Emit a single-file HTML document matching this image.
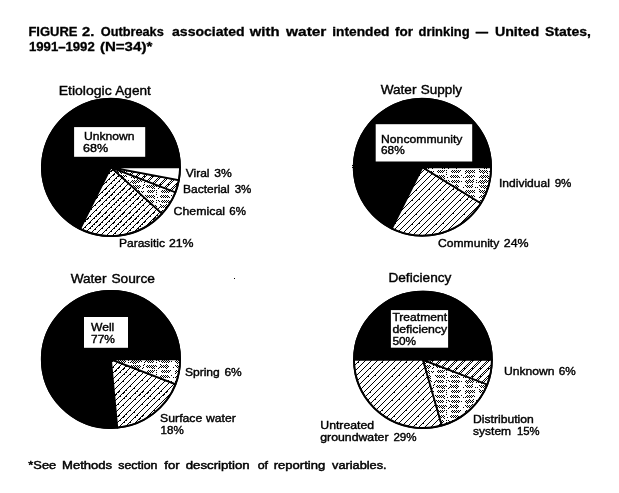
<!DOCTYPE html>
<html><head><meta charset="utf-8"><title>FIGURE 2</title>
<style>
html,body{margin:0;padding:0;background:#fff;}
svg{display:block;}
text{font-family:"Liberation Sans",sans-serif;fill:#000;stroke:#000;stroke-width:0.3px;}
.t{font-weight:bold;font-size:12.4px;}
.h{font-size:13.3px;stroke-width:0.4px;}
.l{font-size:11.6px;stroke-width:0.4px;}
.f{font-size:10.8px;stroke-width:0.45px;}
</style></head><body>
<svg width="619" height="493" viewBox="0 0 619 493">
<defs>
<pattern id="h1" width="24" height="24" patternUnits="userSpaceOnUse"><rect width="24" height="24" fill="#fff"/><path shape-rendering="crispEdges" fill="#000" d="M0,0h1v1h-1zM0,5h1v1h-1zM0,6h1v1h-1zM0,11h1v1h-1zM0,17h1v1h-1zM0,18h1v1h-1zM0,23h1v1h-1zM1,4h1v1h-1zM1,5h1v1h-1zM1,10h1v1h-1zM1,16h1v1h-1zM1,22h1v1h-1zM2,3h1v1h-1zM2,9h1v1h-1zM2,15h1v1h-1zM2,21h1v1h-1zM2,22h1v1h-1zM3,2h1v1h-1zM3,8h1v1h-1zM3,9h1v1h-1zM3,14h1v1h-1zM3,20h1v1h-1zM3,21h1v1h-1zM4,1h1v1h-1zM4,7h1v1h-1zM4,8h1v1h-1zM4,13h1v1h-1zM4,19h1v1h-1zM4,20h1v1h-1zM5,0h1v1h-1zM5,6h1v1h-1zM5,12h1v1h-1zM5,18h1v1h-1zM6,0h1v1h-1zM6,5h1v1h-1zM6,6h1v1h-1zM6,11h1v1h-1zM6,12h1v1h-1zM6,17h1v1h-1zM6,23h1v1h-1zM7,4h1v1h-1zM7,10h1v1h-1zM7,16h1v1h-1zM7,22h1v1h-1zM8,3h1v1h-1zM8,9h1v1h-1zM8,15h1v1h-1zM8,21h1v1h-1zM9,2h1v1h-1zM9,3h1v1h-1zM9,8h1v1h-1zM9,14h1v1h-1zM9,20h1v1h-1zM9,21h1v1h-1zM10,1h1v1h-1zM10,2h1v1h-1zM10,7h1v1h-1zM10,8h1v1h-1zM10,13h1v1h-1zM10,14h1v1h-1zM10,19h1v1h-1zM10,20h1v1h-1zM11,0h1v1h-1zM11,1h1v1h-1zM11,6h1v1h-1zM11,12h1v1h-1zM11,18h1v1h-1zM12,5h1v1h-1zM12,11h1v1h-1zM12,17h1v1h-1zM12,23h1v1h-1zM13,4h1v1h-1zM13,5h1v1h-1zM13,10h1v1h-1zM13,11h1v1h-1zM13,16h1v1h-1zM13,22h1v1h-1zM13,23h1v1h-1zM14,3h1v1h-1zM14,9h1v1h-1zM14,15h1v1h-1zM14,21h1v1h-1zM15,2h1v1h-1zM15,3h1v1h-1zM15,8h1v1h-1zM15,14h1v1h-1zM15,15h1v1h-1zM15,20h1v1h-1zM16,1h1v1h-1zM16,2h1v1h-1zM16,7h1v1h-1zM16,13h1v1h-1zM16,19h1v1h-1zM16,20h1v1h-1zM17,0h1v1h-1zM17,6h1v1h-1zM17,7h1v1h-1zM17,12h1v1h-1zM17,18h1v1h-1zM17,19h1v1h-1zM18,0h1v1h-1zM18,5h1v1h-1zM18,6h1v1h-1zM18,11h1v1h-1zM18,12h1v1h-1zM18,17h1v1h-1zM18,23h1v1h-1zM19,4h1v1h-1zM19,10h1v1h-1zM19,16h1v1h-1zM19,17h1v1h-1zM19,22h1v1h-1zM20,3h1v1h-1zM20,9h1v1h-1zM20,10h1v1h-1zM20,15h1v1h-1zM20,21h1v1h-1zM21,2h1v1h-1zM21,8h1v1h-1zM21,14h1v1h-1zM21,20h1v1h-1zM22,1h1v1h-1zM22,2h1v1h-1zM22,7h1v1h-1zM22,8h1v1h-1zM22,13h1v1h-1zM22,19h1v1h-1zM23,0h1v1h-1zM23,6h1v1h-1zM23,12h1v1h-1zM23,13h1v1h-1zM23,18h1v1h-1z"/></pattern>
<pattern id="h1b" width="24" height="24" patternUnits="userSpaceOnUse"><rect width="24" height="24" fill="#fff"/><path shape-rendering="crispEdges" fill="#000" d="M0,5h1v1h-1zM0,11h1v1h-1zM0,12h1v1h-1zM0,17h1v1h-1zM0,23h1v1h-1zM1,4h1v1h-1zM1,10h1v1h-1zM1,16h1v1h-1zM1,22h1v1h-1zM2,3h1v1h-1zM2,9h1v1h-1zM2,15h1v1h-1zM2,21h1v1h-1zM3,2h1v1h-1zM3,8h1v1h-1zM3,9h1v1h-1zM3,14h1v1h-1zM3,20h1v1h-1zM3,21h1v1h-1zM4,1h1v1h-1zM4,7h1v1h-1zM4,8h1v1h-1zM4,13h1v1h-1zM4,14h1v1h-1zM4,19h1v1h-1zM5,0h1v1h-1zM5,6h1v1h-1zM5,12h1v1h-1zM5,18h1v1h-1zM6,5h1v1h-1zM6,6h1v1h-1zM6,11h1v1h-1zM6,12h1v1h-1zM6,17h1v1h-1zM6,23h1v1h-1zM7,4h1v1h-1zM7,10h1v1h-1zM7,16h1v1h-1zM7,22h1v1h-1zM8,3h1v1h-1zM8,9h1v1h-1zM8,15h1v1h-1zM8,21h1v1h-1zM9,2h1v1h-1zM9,8h1v1h-1zM9,14h1v1h-1zM9,20h1v1h-1zM10,1h1v1h-1zM10,2h1v1h-1zM10,7h1v1h-1zM10,13h1v1h-1zM10,14h1v1h-1zM10,19h1v1h-1zM11,0h1v1h-1zM11,6h1v1h-1zM11,12h1v1h-1zM11,18h1v1h-1zM12,5h1v1h-1zM12,11h1v1h-1zM12,17h1v1h-1zM12,23h1v1h-1zM13,4h1v1h-1zM13,10h1v1h-1zM13,16h1v1h-1zM13,22h1v1h-1zM14,3h1v1h-1zM14,4h1v1h-1zM14,9h1v1h-1zM14,15h1v1h-1zM14,21h1v1h-1zM15,2h1v1h-1zM15,8h1v1h-1zM15,9h1v1h-1zM15,14h1v1h-1zM15,15h1v1h-1zM15,20h1v1h-1zM16,1h1v1h-1zM16,7h1v1h-1zM16,13h1v1h-1zM16,19h1v1h-1zM17,0h1v1h-1zM17,6h1v1h-1zM17,7h1v1h-1zM17,12h1v1h-1zM17,18h1v1h-1zM18,5h1v1h-1zM18,11h1v1h-1zM18,17h1v1h-1zM18,23h1v1h-1zM19,4h1v1h-1zM19,10h1v1h-1zM19,11h1v1h-1zM19,16h1v1h-1zM19,22h1v1h-1zM20,3h1v1h-1zM20,9h1v1h-1zM20,10h1v1h-1zM20,15h1v1h-1zM20,21h1v1h-1zM21,2h1v1h-1zM21,8h1v1h-1zM21,14h1v1h-1zM21,20h1v1h-1zM22,1h1v1h-1zM22,7h1v1h-1zM22,8h1v1h-1zM22,13h1v1h-1zM22,19h1v1h-1zM22,20h1v1h-1zM23,0h1v1h-1zM23,6h1v1h-1zM23,7h1v1h-1zM23,12h1v1h-1zM23,18h1v1h-1z"/></pattern>
<pattern id="h3b" width="24" height="24" patternUnits="userSpaceOnUse"><rect width="24" height="24" fill="#fff"/><path shape-rendering="crispEdges" fill="#000" d="M0,5h1v1h-1zM0,11h1v1h-1zM0,17h1v1h-1zM0,23h1v1h-1zM1,4h1v1h-1zM1,10h1v1h-1zM1,16h1v1h-1zM1,22h1v1h-1zM2,3h1v1h-1zM2,9h1v1h-1zM2,15h1v1h-1zM2,21h1v1h-1zM3,2h1v1h-1zM3,8h1v1h-1zM3,14h1v1h-1zM3,20h1v1h-1zM4,1h1v1h-1zM4,7h1v1h-1zM4,13h1v1h-1zM4,19h1v1h-1zM5,0h1v1h-1zM5,6h1v1h-1zM5,12h1v1h-1zM5,18h1v1h-1zM6,5h1v1h-1zM6,11h1v1h-1zM6,17h1v1h-1zM6,23h1v1h-1zM7,4h1v1h-1zM7,10h1v1h-1zM7,16h1v1h-1zM7,22h1v1h-1zM8,3h1v1h-1zM8,9h1v1h-1zM8,15h1v1h-1zM8,16h1v1h-1zM8,21h1v1h-1zM9,2h1v1h-1zM9,8h1v1h-1zM9,14h1v1h-1zM9,20h1v1h-1zM10,1h1v1h-1zM10,7h1v1h-1zM10,8h1v1h-1zM10,13h1v1h-1zM10,19h1v1h-1zM11,0h1v1h-1zM11,6h1v1h-1zM11,12h1v1h-1zM11,18h1v1h-1zM12,5h1v1h-1zM12,11h1v1h-1zM12,17h1v1h-1zM12,23h1v1h-1zM13,4h1v1h-1zM13,10h1v1h-1zM13,16h1v1h-1zM13,22h1v1h-1zM14,3h1v1h-1zM14,9h1v1h-1zM14,15h1v1h-1zM14,21h1v1h-1zM15,2h1v1h-1zM15,8h1v1h-1zM15,14h1v1h-1zM15,15h1v1h-1zM15,20h1v1h-1zM16,1h1v1h-1zM16,7h1v1h-1zM16,13h1v1h-1zM16,19h1v1h-1zM17,0h1v1h-1zM17,6h1v1h-1zM17,12h1v1h-1zM17,18h1v1h-1zM18,5h1v1h-1zM18,11h1v1h-1zM18,17h1v1h-1zM18,23h1v1h-1zM19,4h1v1h-1zM19,10h1v1h-1zM19,16h1v1h-1zM19,22h1v1h-1zM20,3h1v1h-1zM20,9h1v1h-1zM20,15h1v1h-1zM20,21h1v1h-1zM21,2h1v1h-1zM21,8h1v1h-1zM21,14h1v1h-1zM21,20h1v1h-1zM22,1h1v1h-1zM22,2h1v1h-1zM22,7h1v1h-1zM22,13h1v1h-1zM22,19h1v1h-1zM23,0h1v1h-1zM23,6h1v1h-1zM23,12h1v1h-1zM23,18h1v1h-1z"/></pattern>
<pattern id="h2" width="16" height="16" patternUnits="userSpaceOnUse"><rect width="16" height="16" fill="#fff"/><path shape-rendering="crispEdges" fill="#000" d="M0,0h1v1h-1zM0,1h1v1h-1zM0,7h1v1h-1zM0,8h1v1h-1zM0,9h1v1h-1zM0,15h1v1h-1zM1,0h1v1h-1zM1,6h1v1h-1zM1,8h1v1h-1zM1,14h1v1h-1zM2,5h1v1h-1zM2,7h1v1h-1zM2,13h1v1h-1zM2,15h1v1h-1zM3,4h1v1h-1zM3,6h1v1h-1zM3,12h1v1h-1zM3,14h1v1h-1zM4,3h1v1h-1zM4,5h1v1h-1zM4,11h1v1h-1zM4,13h1v1h-1zM5,2h1v1h-1zM5,4h1v1h-1zM5,10h1v1h-1zM5,12h1v1h-1zM6,1h1v1h-1zM6,3h1v1h-1zM6,9h1v1h-1zM6,11h1v1h-1zM7,0h1v1h-1zM7,2h1v1h-1zM7,8h1v1h-1zM7,10h1v1h-1zM8,0h1v1h-1zM8,1h1v1h-1zM8,7h1v1h-1zM8,8h1v1h-1zM8,9h1v1h-1zM8,15h1v1h-1zM9,0h1v1h-1zM9,6h1v1h-1zM9,8h1v1h-1zM9,14h1v1h-1zM10,5h1v1h-1zM10,7h1v1h-1zM10,13h1v1h-1zM10,15h1v1h-1zM11,4h1v1h-1zM11,6h1v1h-1zM11,12h1v1h-1zM11,14h1v1h-1zM12,3h1v1h-1zM12,5h1v1h-1zM12,11h1v1h-1zM12,13h1v1h-1zM13,2h1v1h-1zM13,4h1v1h-1zM13,10h1v1h-1zM13,12h1v1h-1zM14,1h1v1h-1zM14,3h1v1h-1zM14,9h1v1h-1zM14,11h1v1h-1zM15,0h1v1h-1zM15,2h1v1h-1zM15,8h1v1h-1zM15,10h1v1h-1z"/></pattern>
<pattern id="h3" width="24" height="24" patternUnits="userSpaceOnUse"><rect width="24" height="24" fill="#fff"/><path shape-rendering="crispEdges" fill="#000" d="M0,5h1v1h-1zM0,11h1v1h-1zM0,17h1v1h-1zM0,23h1v1h-1zM1,4h1v1h-1zM1,10h1v1h-1zM1,16h1v1h-1zM1,22h1v1h-1zM2,3h1v1h-1zM2,9h1v1h-1zM2,15h1v1h-1zM2,21h1v1h-1zM3,2h1v1h-1zM3,8h1v1h-1zM3,14h1v1h-1zM3,20h1v1h-1zM4,1h1v1h-1zM4,7h1v1h-1zM4,8h1v1h-1zM4,13h1v1h-1zM4,19h1v1h-1zM5,0h1v1h-1zM5,6h1v1h-1zM5,12h1v1h-1zM5,18h1v1h-1zM6,5h1v1h-1zM6,11h1v1h-1zM6,17h1v1h-1zM6,23h1v1h-1zM7,4h1v1h-1zM7,10h1v1h-1zM7,16h1v1h-1zM7,22h1v1h-1zM8,3h1v1h-1zM8,9h1v1h-1zM8,15h1v1h-1zM8,21h1v1h-1zM8,22h1v1h-1zM9,2h1v1h-1zM9,8h1v1h-1zM9,14h1v1h-1zM9,20h1v1h-1zM10,1h1v1h-1zM10,7h1v1h-1zM10,13h1v1h-1zM10,19h1v1h-1zM11,0h1v1h-1zM11,6h1v1h-1zM11,7h1v1h-1zM11,12h1v1h-1zM11,18h1v1h-1zM12,5h1v1h-1zM12,11h1v1h-1zM12,17h1v1h-1zM12,23h1v1h-1zM13,4h1v1h-1zM13,10h1v1h-1zM13,16h1v1h-1zM13,22h1v1h-1zM14,3h1v1h-1zM14,9h1v1h-1zM14,15h1v1h-1zM14,21h1v1h-1zM15,2h1v1h-1zM15,8h1v1h-1zM15,14h1v1h-1zM15,20h1v1h-1zM16,1h1v1h-1zM16,7h1v1h-1zM16,13h1v1h-1zM16,19h1v1h-1zM17,0h1v1h-1zM17,6h1v1h-1zM17,12h1v1h-1zM17,18h1v1h-1zM18,5h1v1h-1zM18,11h1v1h-1zM18,17h1v1h-1zM18,23h1v1h-1zM19,4h1v1h-1zM19,10h1v1h-1zM19,16h1v1h-1zM19,22h1v1h-1zM20,3h1v1h-1zM20,9h1v1h-1zM20,15h1v1h-1zM20,21h1v1h-1zM21,2h1v1h-1zM21,8h1v1h-1zM21,14h1v1h-1zM21,20h1v1h-1zM21,21h1v1h-1zM22,1h1v1h-1zM22,7h1v1h-1zM22,13h1v1h-1zM22,19h1v1h-1zM23,0h1v1h-1zM23,6h1v1h-1zM23,12h1v1h-1zM23,18h1v1h-1z"/></pattern>
<pattern id="st" width="58" height="20" patternUnits="userSpaceOnUse"><rect width="58" height="20" fill="#fff"/><path shape-rendering="crispEdges" fill="#000" d="M1,1h1v1h-1zM1,5h1v1h-1zM1,11h1v1h-1zM1,13h1v1h-1zM1,17h1v1h-1zM2,0h1v1h-1zM2,2h1v1h-1zM2,6h1v1h-1zM2,10h1v1h-1zM2,12h1v1h-1zM2,16h1v1h-1zM3,1h1v1h-1zM3,3h1v1h-1zM3,5h1v1h-1zM3,7h1v1h-1zM3,11h1v1h-1zM3,15h1v1h-1zM3,17h1v1h-1zM4,0h1v1h-1zM4,2h1v1h-1zM4,6h1v1h-1zM4,10h1v1h-1zM4,12h1v1h-1zM4,16h1v1h-1zM5,1h1v1h-1zM5,5h1v1h-1zM5,7h1v1h-1zM5,11h1v1h-1zM5,13h1v1h-1zM5,15h1v1h-1zM5,17h1v1h-1zM5,19h1v1h-1zM6,0h1v1h-1zM6,2h1v1h-1zM6,6h1v1h-1zM6,10h1v1h-1zM6,12h1v1h-1zM6,16h1v1h-1zM7,1h1v1h-1zM7,5h1v1h-1zM7,7h1v1h-1zM7,11h1v1h-1zM7,15h1v1h-1zM7,17h1v1h-1zM8,0h1v1h-1zM8,2h1v1h-1zM8,4h1v1h-1zM8,6h1v1h-1zM8,10h1v1h-1zM8,12h1v1h-1zM8,16h1v1h-1zM9,1h1v1h-1zM9,11h1v1h-1zM9,15h1v1h-1zM9,19h1v1h-1zM10,10h1v1h-1zM10,12h1v1h-1zM10,16h1v1h-1zM11,7h1v1h-1zM12,0h1v1h-1zM12,2h1v1h-1zM13,7h1v1h-1zM14,2h1v1h-1zM15,1h1v1h-1zM15,5h1v1h-1zM15,9h1v1h-1zM15,11h1v1h-1zM15,17h1v1h-1zM16,0h1v1h-1zM16,2h1v1h-1zM16,6h1v1h-1zM16,10h1v1h-1zM16,12h1v1h-1zM16,16h1v1h-1zM17,1h1v1h-1zM17,3h1v1h-1zM17,5h1v1h-1zM17,7h1v1h-1zM17,11h1v1h-1zM17,15h1v1h-1zM17,17h1v1h-1zM18,0h1v1h-1zM18,2h1v1h-1zM18,6h1v1h-1zM18,10h1v1h-1zM18,12h1v1h-1zM18,16h1v1h-1zM18,18h1v1h-1zM19,1h1v1h-1zM19,3h1v1h-1zM19,5h1v1h-1zM19,7h1v1h-1zM19,11h1v1h-1zM19,13h1v1h-1zM19,15h1v1h-1zM19,17h1v1h-1zM20,0h1v1h-1zM20,2h1v1h-1zM20,6h1v1h-1zM20,8h1v1h-1zM20,10h1v1h-1zM20,12h1v1h-1zM20,16h1v1h-1zM21,1h1v1h-1zM21,5h1v1h-1zM21,7h1v1h-1zM21,11h1v1h-1zM21,15h1v1h-1zM21,17h1v1h-1zM21,19h1v1h-1zM22,0h1v1h-1zM22,2h1v1h-1zM22,6h1v1h-1zM22,8h1v1h-1zM22,10h1v1h-1zM22,12h1v1h-1zM22,16h1v1h-1zM23,1h1v1h-1zM23,5h1v1h-1zM23,7h1v1h-1zM23,11h1v1h-1zM23,13h1v1h-1zM23,15h1v1h-1zM23,17h1v1h-1zM24,0h1v1h-1zM24,6h1v1h-1zM24,16h1v1h-1zM24,18h1v1h-1zM25,1h1v1h-1zM25,11h1v1h-1zM26,8h1v1h-1zM26,12h1v1h-1zM27,5h1v1h-1zM27,7h1v1h-1zM27,11h1v1h-1zM28,2h1v1h-1zM28,4h1v1h-1zM29,1h1v1h-1zM29,15h1v1h-1zM30,0h1v1h-1zM30,6h1v1h-1zM30,16h1v1h-1zM31,1h1v1h-1zM31,5h1v1h-1zM31,7h1v1h-1zM31,11h1v1h-1zM31,15h1v1h-1zM31,17h1v1h-1zM32,0h1v1h-1zM32,2h1v1h-1zM32,6h1v1h-1zM32,10h1v1h-1zM32,12h1v1h-1zM32,16h1v1h-1zM33,1h1v1h-1zM33,5h1v1h-1zM33,7h1v1h-1zM33,11h1v1h-1zM33,15h1v1h-1zM33,17h1v1h-1zM34,0h1v1h-1zM34,2h1v1h-1zM34,6h1v1h-1zM34,10h1v1h-1zM34,12h1v1h-1zM34,16h1v1h-1zM35,1h1v1h-1zM35,5h1v1h-1zM35,7h1v1h-1zM35,11h1v1h-1zM35,15h1v1h-1zM35,17h1v1h-1zM36,0h1v1h-1zM36,2h1v1h-1zM36,6h1v1h-1zM36,8h1v1h-1zM36,10h1v1h-1zM36,12h1v1h-1zM36,16h1v1h-1zM37,1h1v1h-1zM37,5h1v1h-1zM37,7h1v1h-1zM37,11h1v1h-1zM37,15h1v1h-1zM37,17h1v1h-1zM38,6h1v1h-1zM38,8h1v1h-1zM38,10h1v1h-1zM38,16h1v1h-1zM38,18h1v1h-1zM39,5h1v1h-1zM40,0h1v1h-1zM40,2h1v1h-1zM40,6h1v1h-1zM40,10h1v1h-1zM40,12h1v1h-1zM40,14h1v1h-1zM41,17h1v1h-1zM42,0h1v1h-1zM42,8h1v1h-1zM43,1h1v1h-1zM43,7h1v1h-1zM44,4h1v1h-1zM44,6h1v1h-1zM44,16h1v1h-1zM45,1h1v1h-1zM45,5h1v1h-1zM45,7h1v1h-1zM45,11h1v1h-1zM45,15h1v1h-1zM45,17h1v1h-1zM46,0h1v1h-1zM46,2h1v1h-1zM46,6h1v1h-1zM46,10h1v1h-1zM46,12h1v1h-1zM46,16h1v1h-1zM47,1h1v1h-1zM47,5h1v1h-1zM47,7h1v1h-1zM47,11h1v1h-1zM47,15h1v1h-1zM47,17h1v1h-1zM48,0h1v1h-1zM48,2h1v1h-1zM48,6h1v1h-1zM48,10h1v1h-1zM48,12h1v1h-1zM48,16h1v1h-1zM49,1h1v1h-1zM49,5h1v1h-1zM49,7h1v1h-1zM49,11h1v1h-1zM49,15h1v1h-1zM49,17h1v1h-1zM50,0h1v1h-1zM50,2h1v1h-1zM50,4h1v1h-1zM50,6h1v1h-1zM50,8h1v1h-1zM50,10h1v1h-1zM50,12h1v1h-1zM50,16h1v1h-1zM51,1h1v1h-1zM51,5h1v1h-1zM51,7h1v1h-1zM51,11h1v1h-1zM51,15h1v1h-1zM51,17h1v1h-1zM52,0h1v1h-1zM52,2h1v1h-1zM52,6h1v1h-1zM52,10h1v1h-1zM52,12h1v1h-1zM52,16h1v1h-1zM53,1h1v1h-1zM53,11h1v1h-1zM53,17h1v1h-1zM54,10h1v1h-1zM55,1h1v1h-1zM55,15h1v1h-1zM57,7h1v1h-1zM57,17h1v1h-1z"/></pattern>
</defs>
<rect width="619" height="493" fill="#fff"/>

<path d="M111.00,167.45L180.00,167.45A69.00,68.65 0 1 0 80.24,228.90Z" fill="#000" stroke="#000" stroke-width="1.8" stroke-linejoin="round"/>
<path d="M111.00,167.45L80.24,228.90A69.00,68.65 0 0 0 161.99,213.70Z" fill="url(#h1)" stroke="#000" stroke-width="1.8" stroke-linejoin="round"/>
<path d="M111.00,167.45L161.99,213.70A69.00,68.65 0 0 0 175.34,192.25Z" fill="url(#st)" stroke="#000" stroke-width="1.8" stroke-linejoin="round"/>
<path d="M111.00,167.45L175.34,192.25A69.00,68.65 0 0 0 178.83,180.06Z" fill="url(#h2)" stroke="#000" stroke-width="1.8" stroke-linejoin="round"/>
<path d="M111.00,167.45L178.83,180.06A69.00,68.65 0 0 0 180.00,167.45Z" fill="#fff" stroke="#000" stroke-width="1.8" stroke-linejoin="round"/>
<ellipse cx="111.00" cy="167.45" rx="69.00" ry="68.65" fill="none" stroke="#000" stroke-width="1.8"/>
<path d="M422.45,167.25L491.10,167.25A68.65,68.45 0 1 0 391.85,228.52Z" fill="#000" stroke="#000" stroke-width="1.8" stroke-linejoin="round"/>
<path d="M422.45,167.25L391.85,228.52A68.65,68.45 0 0 0 480.82,203.28Z" fill="url(#h3)" stroke="#000" stroke-width="1.8" stroke-linejoin="round"/>
<path d="M422.45,167.25L480.82,203.28A68.65,68.45 0 0 0 491.10,167.25Z" fill="url(#st)" stroke="#000" stroke-width="1.8" stroke-linejoin="round"/>
<ellipse cx="422.45" cy="167.25" rx="68.65" ry="68.45" fill="none" stroke="#000" stroke-width="1.8"/>
<path d="M110.95,359.45L180.10,359.45A69.15,68.55 0 1 0 117.33,427.71Z" fill="#000" stroke="#000" stroke-width="1.8" stroke-linejoin="round"/>
<path d="M110.95,359.45L117.33,427.71A69.15,68.55 0 0 0 175.43,384.21Z" fill="url(#h1b)" stroke="#000" stroke-width="1.8" stroke-linejoin="round"/>
<path d="M110.95,359.45L175.43,384.21A69.15,68.55 0 0 0 180.10,359.45Z" fill="url(#st)" stroke="#000" stroke-width="1.8" stroke-linejoin="round"/>
<ellipse cx="110.95" cy="359.45" rx="69.15" ry="68.55" fill="none" stroke="#000" stroke-width="1.8"/>
<path d="M422.95,359.85L491.90,359.85A68.95,68.15 0 0 0 354.00,359.85Z" fill="#000" stroke="#000" stroke-width="1.8" stroke-linejoin="round"/>
<path d="M422.95,359.85L354.00,359.85A68.95,68.15 0 0 0 441.82,425.40Z" fill="url(#h3b)" stroke="#000" stroke-width="1.8" stroke-linejoin="round"/>
<path d="M422.95,359.85L441.82,425.40A68.95,68.15 0 0 0 487.24,384.47Z" fill="url(#st)" stroke="#000" stroke-width="1.8" stroke-linejoin="round"/>
<path d="M422.95,359.85L487.24,384.47A68.95,68.15 0 0 0 491.90,359.85Z" fill="url(#h2)" stroke="#000" stroke-width="1.8" stroke-linejoin="round"/>
<ellipse cx="422.95" cy="359.85" rx="68.95" ry="68.15" fill="none" stroke="#000" stroke-width="1.8"/>
<text y="36.2" class="t"><tspan x="28.4" textLength="49.1" lengthAdjust="spacingAndGlyphs">FIGURE</tspan> <tspan x="82" textLength="12.3" lengthAdjust="spacingAndGlyphs">2.</tspan> <tspan x="100.8" textLength="63.0" lengthAdjust="spacingAndGlyphs">Outbreaks</tspan> <tspan x="172" textLength="72.7" lengthAdjust="spacingAndGlyphs">associated</tspan> <tspan x="249.8" textLength="29.7" lengthAdjust="spacingAndGlyphs">with</tspan> <tspan x="286" textLength="40.4" lengthAdjust="spacingAndGlyphs">water</tspan> <tspan x="332.3" textLength="57.2" lengthAdjust="spacingAndGlyphs">intended</tspan> <tspan x="395" textLength="18.0" lengthAdjust="spacingAndGlyphs">for</tspan> <tspan x="418.5" textLength="51.1" lengthAdjust="spacingAndGlyphs">drinking</tspan> <tspan x="475.7" textLength="12.3" lengthAdjust="spacingAndGlyphs">—</tspan> <tspan x="494.9" textLength="44.3" lengthAdjust="spacingAndGlyphs">United</tspan> <tspan x="545" textLength="45.9" lengthAdjust="spacingAndGlyphs">States,</tspan></text>
<text y="51.4" class="t"><tspan x="29" textLength="65.7" lengthAdjust="spacingAndGlyphs">1991–1992</tspan> <tspan x="99.9" textLength="52.4" lengthAdjust="spacingAndGlyphs">(N=34)*</tspan></text>
<text y="94.5" class="h"><tspan x="58.7" textLength="53.0" lengthAdjust="spacingAndGlyphs">Etiologic</tspan> <tspan x="115.3" textLength="35.5" lengthAdjust="spacingAndGlyphs">Agent</tspan></text>
<text y="93.6" class="h"><tspan x="380.7" textLength="35.8" lengthAdjust="spacingAndGlyphs">Water</tspan> <tspan x="420.8" textLength="41.3" lengthAdjust="spacingAndGlyphs">Supply</tspan></text>
<text y="282.5" class="h"><tspan x="70.7" textLength="35.8" lengthAdjust="spacingAndGlyphs">Water</tspan> <tspan x="111.4" textLength="43.6" lengthAdjust="spacingAndGlyphs">Source</tspan></text>
<text y="282.2" class="h"><tspan x="388.4" textLength="63.0" lengthAdjust="spacingAndGlyphs">Deficiency</tspan></text>
<rect x="74.1" y="127.1" width="71.1" height="29.7" fill="#fff"/>
<text x="84" y="140" class="l" textLength="50.6" lengthAdjust="spacingAndGlyphs">Unknown</text>
<text x="83" y="152.3" class="l" textLength="25.1" lengthAdjust="spacingAndGlyphs">68%</text>
<rect x="375.7" y="124.2" width="96.5" height="37.3" fill="#fff"/>
<text x="381" y="142.5" class="l" textLength="81.4" lengthAdjust="spacingAndGlyphs">Noncommunity</text>
<text x="381" y="154.4" class="l" textLength="23.7" lengthAdjust="spacingAndGlyphs">68%</text>
<rect x="84" y="317" width="44.0" height="30.8" fill="#fff"/>
<text x="91" y="330.5" class="l" textLength="23.3" lengthAdjust="spacingAndGlyphs">Well</text>
<text x="91" y="342.5" class="l" textLength="23.9" lengthAdjust="spacingAndGlyphs">77%</text>
<rect x="390.9" y="310.1" width="57.2" height="37.6" fill="#fff"/>
<text x="392.4" y="320.6" class="l" textLength="54.6" lengthAdjust="spacingAndGlyphs">Treatment</text>
<text x="392.4" y="332.7" class="l" textLength="54.8" lengthAdjust="spacingAndGlyphs">deficiency</text>
<text x="392.4" y="345.1" class="l" textLength="23.7" lengthAdjust="spacingAndGlyphs">50%</text>
<text y="176.5" class="l"><tspan x="185.7" textLength="23.8" lengthAdjust="spacingAndGlyphs">Viral</tspan> <tspan x="214.3" textLength="17.5" lengthAdjust="spacingAndGlyphs">3%</tspan></text>
<text y="193.3" class="l"><tspan x="183.1" textLength="46.5" lengthAdjust="spacingAndGlyphs">Bacterial</tspan> <tspan x="234.7" textLength="16.7" lengthAdjust="spacingAndGlyphs">3%</tspan></text>
<text y="214.6" class="l"><tspan x="173.6" textLength="51.4" lengthAdjust="spacingAndGlyphs">Chemical</tspan> <tspan x="229.3" textLength="16.6" lengthAdjust="spacingAndGlyphs">6%</tspan></text>
<text y="247" class="l"><tspan x="119" textLength="46.0" lengthAdjust="spacingAndGlyphs">Parasitic</tspan> <tspan x="168.9" textLength="24.7" lengthAdjust="spacingAndGlyphs">21%</tspan></text>
<text y="187.4" class="l"><tspan x="499" textLength="50.9" lengthAdjust="spacingAndGlyphs">Individual</tspan> <tspan x="554.7" textLength="16.7" lengthAdjust="spacingAndGlyphs">9%</tspan></text>
<text y="246.8" class="l"><tspan x="438" textLength="61.3" lengthAdjust="spacingAndGlyphs">Community</tspan> <tspan x="503.8" textLength="24.8" lengthAdjust="spacingAndGlyphs">24%</tspan></text>
<text y="376.3" class="l"><tspan x="184.9" textLength="34.9" lengthAdjust="spacingAndGlyphs">Spring</tspan> <tspan x="224.4" textLength="17.3" lengthAdjust="spacingAndGlyphs">6%</tspan></text>
<text y="422.4" class="l"><tspan x="160.1" textLength="42.2" lengthAdjust="spacingAndGlyphs">Surface</tspan> <tspan x="206" textLength="29.7" lengthAdjust="spacingAndGlyphs">water</tspan></text>
<text y="434.4" class="l"><tspan x="160.6" textLength="23.2" lengthAdjust="spacingAndGlyphs">18%</tspan></text>
<text y="374.5" class="l"><tspan x="504" textLength="50.6" lengthAdjust="spacingAndGlyphs">Unknown</tspan> <tspan x="558.7" textLength="17.0" lengthAdjust="spacingAndGlyphs">6%</tspan></text>
<text y="423.0" class="l"><tspan x="473.1" textLength="60.7" lengthAdjust="spacingAndGlyphs">Distribution</tspan></text>
<text y="435.2" class="l"><tspan x="473.1" textLength="38.0" lengthAdjust="spacingAndGlyphs">system</tspan> <tspan x="517" textLength="22.6" lengthAdjust="spacingAndGlyphs">15%</tspan></text>
<text y="429.0" class="l"><tspan x="320.3" textLength="53.8" lengthAdjust="spacingAndGlyphs">Untreated</tspan></text>
<text y="441.1" class="l"><tspan x="320.3" textLength="68.2" lengthAdjust="spacingAndGlyphs">groundwater</tspan> <tspan x="393.4" textLength="23.2" lengthAdjust="spacingAndGlyphs">29%</tspan></text>
<path shape-rendering="crispEdges" fill="#000" d="M234,278h1v1h-1zM352,165h1v1h-1zM352,167h1v1h-1z"/>
<text y="469.4" class="f"><tspan x="28.3" textLength="27.9" lengthAdjust="spacingAndGlyphs">*See</tspan> <tspan x="62" textLength="50.1" lengthAdjust="spacingAndGlyphs">Methods</tspan> <tspan x="118.2" textLength="39.3" lengthAdjust="spacingAndGlyphs">section</tspan> <tspan x="164.3" textLength="15.3" lengthAdjust="spacingAndGlyphs">for</tspan> <tspan x="185.7" textLength="64.0" lengthAdjust="spacingAndGlyphs">description</tspan> <tspan x="257.7" textLength="10.4" lengthAdjust="spacingAndGlyphs">of</tspan> <tspan x="273.7" textLength="51.5" lengthAdjust="spacingAndGlyphs">reporting</tspan> <tspan x="332" textLength="54.6" lengthAdjust="spacingAndGlyphs">variables.</tspan></text>
</svg></body></html>
